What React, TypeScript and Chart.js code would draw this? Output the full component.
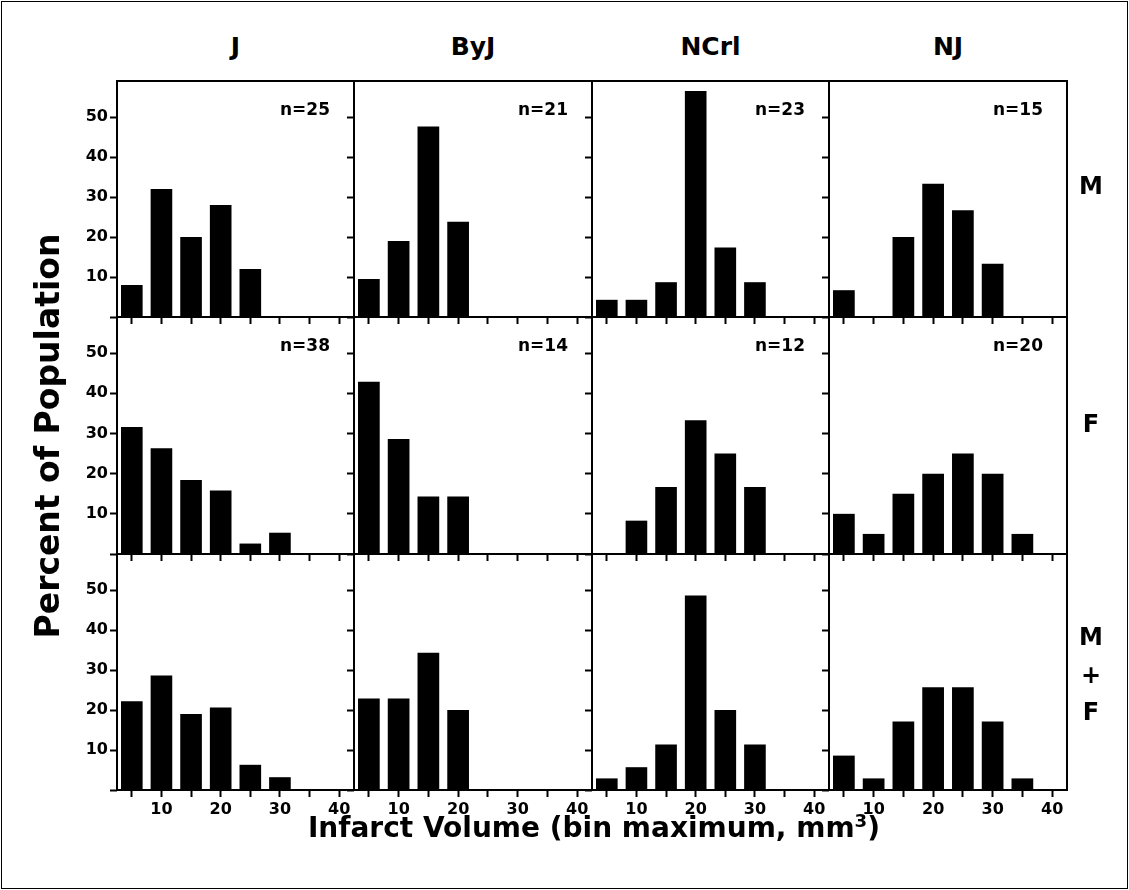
import React, { useEffect, useRef } from 'react';
import { Chart, registerables } from 'chart.js';

Chart.register(...registerables);

// ---------- data ----------
const bins = ['5', '10', '15', '20', '25', '30', '35', '40'];
const strains = ['J', 'ByJ', 'NCrl', 'NJ'];
const sexes = ['M', 'F', 'M+F'];

// Percent of population per bin (bin maximum, mm3)
const J_M = [8, 32, 20, 28, 12, null, null, null];
const ByJ_M = [9.5, 19, 47.6, 23.8, null, null, null, null];
const NCrl_M = [4.3, 4.3, 8.7, 56.5, 17.4, 8.7, null, null];
const NJ_M = [6.7, null, 20, 33.3, 26.7, 13.3, null, null];

const J_F = [31.6, 26.3, 18.4, 15.8, 2.6, 5.3, null, null];
const ByJ_F = [42.9, 28.6, 14.3, 14.3, null, null, null, null];
const NCrl_F = [null, 8.3, 16.7, 33.3, 25, 16.7, null, null];
const NJ_F = [10, 5, 15, 20, 25, 20, 5, null];

const J_MF = [22.2, 28.6, 19.0, 20.6, 6.3, 3.2, null, null];
const ByJ_MF = [22.9, 22.9, 34.3, 20.0, null, null, null, null];
const NCrl_MF = [2.9, 5.7, 11.4, 48.6, 20.0, 11.4, null, null];
const NJ_MF = [8.6, 2.9, 17.1, 25.7, 25.7, 17.1, 2.9, null];

const nM = [25, 21, 23, 15];
const nF = [38, 14, 12, 20];

const yMax = 59;
const yStep = 10;

const grid = [
  [J_M, ByJ_M, NCrl_M, NJ_M],
  [J_F, ByJ_F, NCrl_F, NJ_F],
  [J_MF, ByJ_MF, NCrl_MF, NJ_MF],
];
const nLabels = [nM, nF, null];

// ---------- layout ----------
const FONT = '"DejaVu Sans", sans-serif';
const COL_X = [117, 354, 592, 829, 1067];
const ROW_Y = [81, 317, 554, 790];
const AXL = 70;
const AXB = 40;
const PAD = 2;

const framePlugin = {
  id: 'frame',
  afterDatasetsDraw(chart: any) {
    const { ctx, chartArea: a } = chart;
    ctx.save();
    ctx.strokeStyle = '#000';
    ctx.lineWidth = 2;
    ctx.strokeRect(a.left, a.top, a.right - a.left, a.bottom - a.top);
    ctx.restore();
  },
};

function Panel({ values, row, col }: { values: (number | null)[]; row: number; col: number }) {
  const ref = useRef<HTMLCanvasElement>(null);
  const left = COL_X[col];
  const right = COL_X[col + 1];
  const top = ROW_Y[row];
  const bottom = ROW_Y[row + 1];
  const W = right - left;
  const H = bottom - top;

  useEffect(() => {
    if (!ref.current) return;
    const tickFont = { family: FONT, size: 16, weight: 'bold' as const };
    const chart = new Chart(ref.current, {
      type: 'bar',
      data: {
        labels: bins,
        datasets: [
          {
            data: values as any,
            backgroundColor: '#000',
            borderWidth: 0,
            barPercentage: 0.73,
            categoryPercentage: 1,
          },
        ],
      },
      options: {
        animation: false,
        responsive: false,
        events: [],
        layout: { padding: { top: PAD, right: PAD, left: 0, bottom: 0 } },
        plugins: {
          legend: { display: false },
          tooltip: { enabled: false },
          title: { display: false },
        },
        scales: {
          x: {
            type: 'category',
            offset: true,
            grid: {
              display: true,
              offset: false,
              drawOnChartArea: false,
              drawTicks: true,
              tickLength: 7,
              tickWidth: 2,
              tickColor: '#000',
            },
            border: { display: false },
            ticks: {
              autoSkip: false,
              maxRotation: 0,
              minRotation: 0,
              padding: 3,
              color: '#000',
              font: tickFont,
              callback: (_v: any, i: number) =>
                row === 2 && Number(bins[i]) % 10 === 0 ? bins[i] : '',
            },
            afterFit: (s: any) => {
              s.height = AXB;
              s.paddingLeft = 0;
              s.paddingRight = 0;
            },
          },
          y: {
            min: 0,
            max: yMax,
            grid: {
              display: true,
              drawOnChartArea: false,
              drawTicks: true,
              tickLength: 7,
              tickWidth: 2,
              tickColor: '#000',
            },
            border: { display: false },
            ticks: {
              stepSize: yStep,
              includeBounds: false,
              padding: 2,
              color: '#000',
              font: tickFont,
              callback: (v: any) => (col === 0 && Number(v) !== 0 ? String(v) : ''),
            },
            afterFit: (s: any) => {
              s.width = AXL;
              s.paddingTop = 0;
              s.paddingBottom = 0;
            },
          },
        },
      },
      plugins: [framePlugin],
    } as any);
    return () => chart.destroy();
  }, []);

  return (
    <canvas
      ref={ref}
      width={W + AXL + PAD}
      height={H + AXB + PAD}
      style={{ position: 'absolute', left: left - AXL, top: top - PAD, display: 'block' }}
    />
  );
}

const textBase: React.CSSProperties = {
  position: 'absolute',
  fontFamily: FONT,
  fontWeight: 'bold',
  color: '#000',
  whiteSpace: 'nowrap',
};

export default function App() {
  const rowLabelY = [186, 424];
  return (
    <div
      style={{
        position: 'absolute',
        left: 0,
        top: 0,
        width: 1129,
        height: 890,
        background: '#fff',
        overflow: 'hidden',
      }}
    >
      <div
        style={{
          position: 'absolute',
          left: 1,
          top: 1,
          width: 1125,
          height: 886,
          border: '1px solid #000',
        }}
      />
      {grid.map((rowVals, r) =>
        rowVals.map((vals, c) => <Panel key={`${r}-${c}`} values={vals} row={r} col={c} />)
      )}
      {/* n labels */}
      {nLabels.map((ns, r) =>
        ns
          ? ns.map((n, c) => (
              <div
                key={`n-${r}-${c}`}
                style={{
                  ...textBase,
                  fontSize: 17,
                  lineHeight: '20px',
                  left: COL_X[c + 1] - 24 - 120,
                  width: 120,
                  textAlign: 'right',
                  top: ROW_Y[r] + 28 - 10,
                }}
              >
                {`n=${n}`}
              </div>
            ))
          : null
      )}
      {/* column titles */}
      {strains.map((s, c) => (
        <div
          key={`t-${c}`}
          style={{
            ...textBase,
            fontSize: 25,
            lineHeight: '30px',
            left: (COL_X[c] + COL_X[c + 1]) / 2 - 100,
            width: 200,
            textAlign: 'center',
            top: 47 - 15,
          }}
        >
          {s}
        </div>
      ))}
      {/* row labels */}
      {sexes.slice(0, 2).map((s, r) => (
        <div
          key={`r-${r}`}
          style={{
            ...textBase,
            fontSize: 24,
            lineHeight: '30px',
            left: 1091 - 30,
            width: 60,
            textAlign: 'center',
            top: rowLabelY[r] - 15,
          }}
        >
          {s}
        </div>
      ))}
      {['M', '+', 'F'].map((s, i) => (
        <div
          key={`mf-${i}`}
          style={{
            ...textBase,
            fontSize: 24,
            lineHeight: '30px',
            left: 1091 - 30,
            width: 60,
            textAlign: 'center',
            top: [637, 675, 712][i] - 15,
          }}
        >
          {s}
        </div>
      ))}
      {/* y axis title */}
      <div
        style={{
          ...textBase,
          fontSize: 33,
          lineHeight: '40px',
          left: 48 - 300,
          top: 436 - 20,
          width: 600,
          textAlign: 'center',
          transform: 'rotate(-90deg)',
        }}
      >
        Percent of Population
      </div>
      {/* x axis title */}
      <div
        style={{
          ...textBase,
          fontSize: 28,
          lineHeight: '40px',
          left: 594 - 400,
          top: 828 - 20,
          width: 800,
          textAlign: 'center',
        }}
      >
        Infarct Volume (bin maximum, mm<sup style={{ fontSize: '0.65em', lineHeight: 0 }}>3</sup>)
      </div>
    </div>
  );
}
